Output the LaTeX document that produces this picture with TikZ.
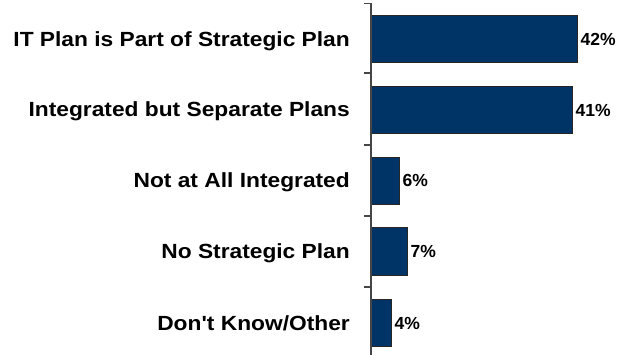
\documentclass[tikz,border=0pt]{standalone}
\usepackage{fontspec}
\setmainfont{Liberation Sans}
\newfontfamily\catfont[FakeStretch=1.11]{Liberation Sans}
\definecolor{barblue}{RGB}{0,51,102}
\definecolor{axisgray}{RGB}{70,70,70}
\begin{document}
\begin{tikzpicture}[x=1pt,y=-1pt,
  bar/.style={fill=barblue,draw=black!85,line width=0.9pt},
  cat/.style={anchor=base east,inner sep=0pt,font=\catfont\bfseries\fontsize{20.5}{22}\selectfont},
  val/.style={anchor=base west,inner sep=0pt,font=\bfseries\fontsize{17.5}{19}\selectfont},
  axis/.style={draw=axisgray,line width=1.3pt},
  tick/.style={draw=axisgray,line width=1.1pt}]
\useasboundingbox (0,0) rectangle (619,355);
% bars
\path[bar] (371,15.7) rectangle (577,62.7) coordinate (b1);
\path[bar] (371,86) rectangle (572,133) coordinate (b2);
\path[bar] (371,157.3) rectangle (399,204) coordinate (b3);
\path[bar] (371,227.7) rectangle (407,275.7) coordinate (b4);
\path[bar] (371,299.3) rectangle (391,346.7) coordinate (b5);
% axis
\coordinate (atop) at (371,3.5);
\coordinate (abot) at (371,355);
\draw[axis] (atop) -- (abot);
\foreach \y in {3.5,73,145,216,287}{\draw[tick] (364,\y) -- (371,\y);}
% category labels
\node[cat] (l1) at (350,46.7) {IT Plan is Part of Strategic Plan};
\node[cat] (l2) at (350,117) {Integrated but Separate Plans};
\node[cat] (l3) at (350,188) {Not at All Integrated};
\node[cat] (l4) at (350,259) {No Strategic Plan};
\node[cat] (l5) at (350,330.3) {Don't Know/Other};
% values
\node[val] (v1) at (580.5,45.5) {42\%};
\node[val] (v2) at (575.5,116.5) {41\%};
\node[val] (v3) at (402.5,187) {6\%};
\node[val] (v4) at (410.5,258) {7\%};
\node[val] (v5) at (394.5,329.3) {4\%};
\end{tikzpicture}
\end{document}
